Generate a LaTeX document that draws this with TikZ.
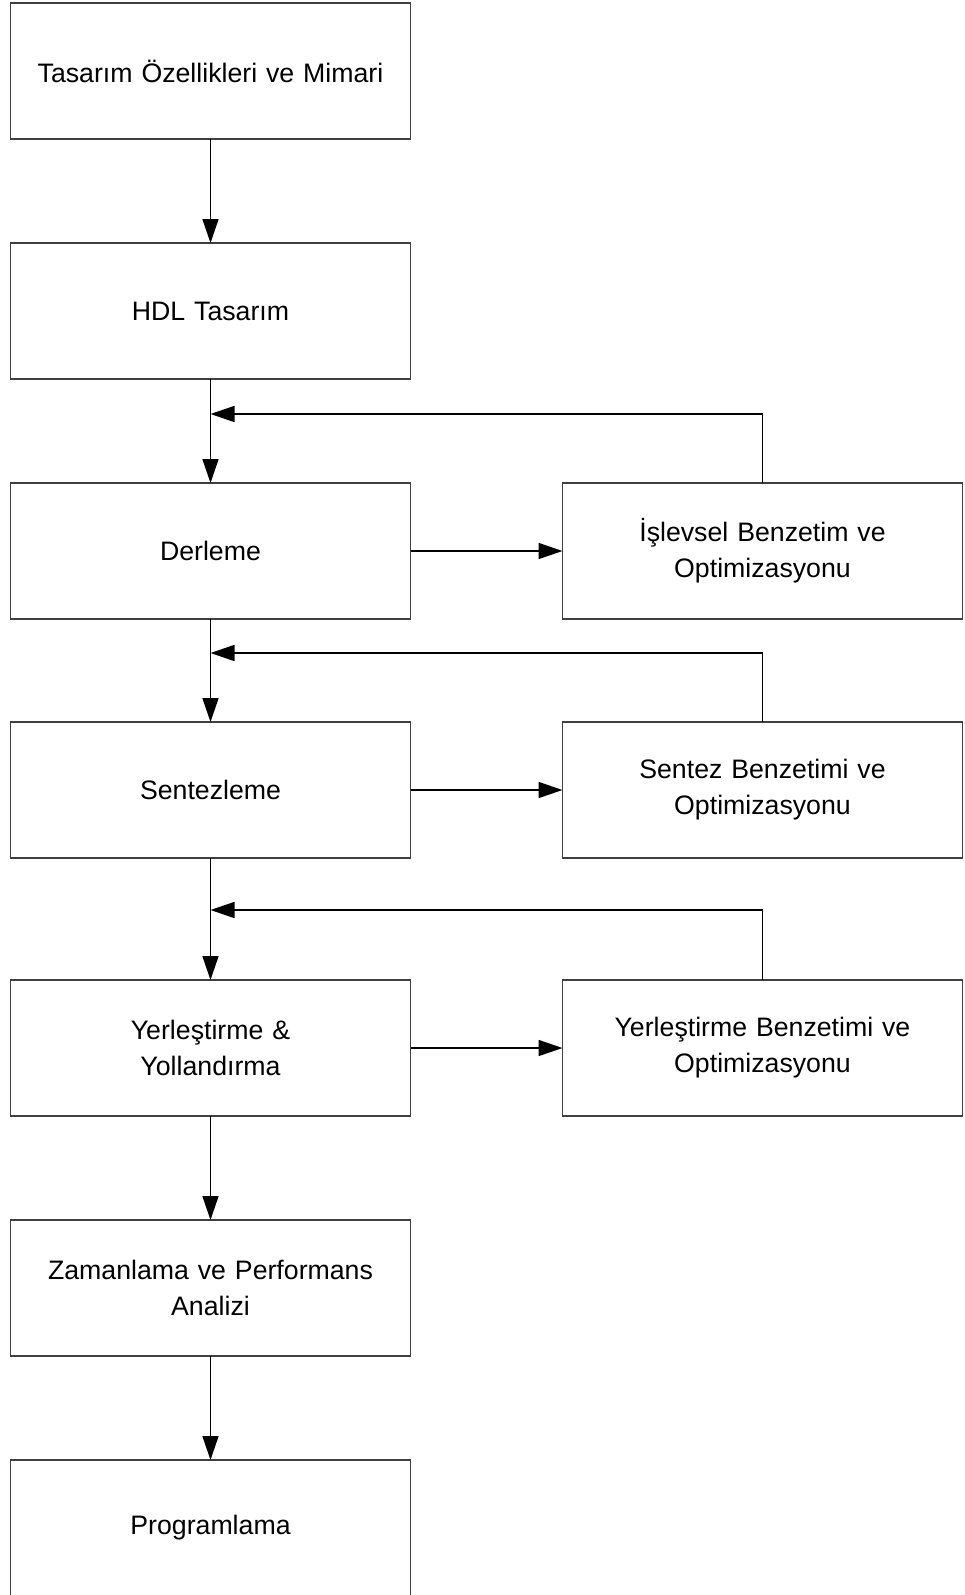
\documentclass[tikz,border=0pt]{standalone}
\usepackage{fontspec}
\setmainfont{Liberation Sans}
\usetikzlibrary{positioning}
\usetikzlibrary{calc}
\usetikzlibrary{arrows.meta}

\begin{document}
\begin{tikzpicture}[
            > = {Triangle[length=24pt,width=16pt]}, % arrow head style
            x = 1pt, y = 1pt,
            node distance = 104pt and 152pt, % distance between boxes
            every node/.style = {font=\fontsize{26.7}{36}\selectfont}
        ]

        \tikzstyle{block}=[
            draw = black!75,
            line width = 1.2pt,
            minimum width = 400pt,
            minimum height = 136pt,
            text width = 380pt,
            align = center,
            inner sep = 0pt,
            outer sep = 0pt
        ]
        \tikzstyle{flow}=[->, line width = 1.6pt]

        \useasboundingbox (0,0) rectangle (965,-1595);

        % main flow
        \node[block] (spec) at (210.5,-71) {Tasarım Özellikleri ve Mimari};
        \node[block] (hdl) [below = of spec] {HDL Tasarım};
        \node[block] (derle) [below = of hdl] {Derleme};
        \node[block] (sentez) [below = 103pt of derle] {Sentezleme};
        \node[block] (yerles) [below = 122pt of sentez] {Yerleştirme \&\\ Yollandırma};
        \node[block] (zaman) [below = of yerles] {Zamanlama ve Performans\\ Analizi};
        \node[block] (prog) [below = of zaman] {Programlama};

        % simulation boxes
        \node[block] (islev) [right = of derle] {İşlevsel Benzetim ve\\ Optimizasyonu};
        \node[block] (sbenz) [right = of sentez] {Sentez Benzetimi ve\\ Optimizasyonu};
        \node[block] (ybenz) [right = of yerles] {Yerleştirme Benzetimi ve\\ Optimizasyonu};

        \draw[flow] (spec) -- (hdl);
        \draw[flow] (hdl) -- (derle);
        \draw[flow] (derle) -- (sentez);
        \draw[flow] (sentez) -- (yerles);
        \draw[flow] (yerles) -- (zaman);
        \draw[flow] (zaman) -- (prog);

        \draw[flow] (derle) -- (islev);
        \draw[flow] (sentez) -- (sbenz);
        \draw[flow] (yerles) -- (ybenz);

        % feedback
        \coordinate (j1) at ($(hdl.south)+(0,-35)$);
        \coordinate (j2) at ($(derle.south)+(0,-34)$);
        \coordinate (j3) at ($(sentez.south)+(0,-52)$);
        \draw[flow] (islev.north) |- (j1);
        \draw[flow] (sbenz.north) |- (j2);
        \draw[flow] (ybenz.north) |- (j3);

  \end{tikzpicture}
\end{document}
